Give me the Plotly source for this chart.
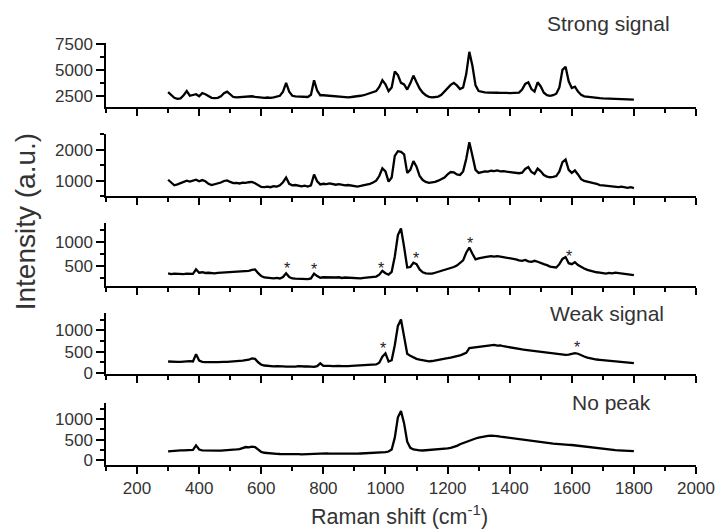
import plotly.graph_objects as go

# Raman shift sampling grid (cm^-1)
raman_shift = list(range(300, 1810, 10))

strong_signal = [
    2850, 2600, 2300, 2200, 2250, 2550, 2950, 2500, 2550, 2650,
    2450, 2750, 2650, 2450, 2300, 2280, 2300, 2450, 2750, 2900,
    2600, 2380, 2350, 2370, 2400, 2380, 2420, 2450, 2400, 2350,
    2320, 2300, 2330, 2300, 2350, 2400, 2500, 2900, 3750, 2900,
    2500, 2450, 2430, 2420, 2400, 2380, 2600, 4000, 3000, 2550,
    2550, 2520, 2500, 2480, 2450, 2400, 2420, 2380, 2350, 2380,
    2400, 2450, 2500, 2550, 2650, 2700, 2800, 2950, 3350, 4000,
    3600, 2950, 3300, 4850, 4500, 3750, 3600, 3100, 3700, 4450,
    3800, 3200, 2800, 2550, 2400, 2350, 2380, 2420, 2600, 2900,
    3300, 3550, 3750, 3500, 3150, 3300, 4600, 6750, 5400, 3500,
    2950, 2850, 2820, 2800, 2820, 2800, 2790, 2780, 2800, 2780,
    2760, 2770, 2750, 2800, 3100, 3650, 3800, 3150, 2900, 3800,
    3400, 2800, 2550, 2500, 2550, 2700, 3300, 5000, 5300, 3900,
    3250, 3380, 2900, 2600, 2450, 2400, 2350, 2330, 2300, 2270,
    2250, 2230, 2240, 2200, 2180, 2190, 2160, 2150, 2130, 2140,
    2120,
]

medium_signal = [
    1030, 950, 850, 880, 920, 960, 1000, 970, 1000, 1030,
    980, 1020, 980, 900, 860, 880, 900, 940, 990, 1010,
    960, 920, 930, 910, 940, 930, 950, 960, 920, 850,
    800, 790, 810, 790, 820, 810, 850, 950, 1100, 900,
    850, 860, 830, 820, 840, 810, 850, 1200, 980, 880,
    900, 890, 910, 880, 870, 890, 860, 850, 860, 840,
    820, 810, 830, 850, 870, 900, 940, 1000, 1150, 1400,
    1300, 970, 1100, 1800, 1950, 1930, 1850, 1250, 1350, 1630,
    1450, 1150, 1020, 960, 930, 940, 960, 1000, 1050, 1100,
    1200, 1280, 1270, 1200, 1180, 1300, 1700, 2240, 1800, 1350,
    1250, 1270, 1300, 1290, 1320, 1310, 1330, 1300, 1310, 1290,
    1280, 1270, 1250, 1240, 1260, 1380, 1440, 1280, 1220, 1390,
    1300, 1180, 1130, 1110, 1120, 1150, 1300, 1600, 1680, 1350,
    1250, 1330, 1200, 1050, 990, 960, 940, 920, 900, 860,
    850, 840, 830, 810, 800, 790, 810, 780, 770, 790,
    760,
]

moderate_signal = [
    346, 330, 340, 335, 345, 330, 340, 345, 335, 430,
    360, 370, 355, 360, 350, 345, 355, 360, 350, 365,
    370, 380, 375, 390, 385, 395, 400, 420, 430, 350,
    290, 260, 250, 245, 240, 250, 240, 270, 350, 270,
    240, 235, 230, 240, 230, 225, 240, 340, 290, 255,
    265, 260, 270, 255, 260, 265, 250, 260, 255, 245,
    240, 245, 240, 250, 255, 260, 265, 280, 320, 400,
    350, 320, 380, 700, 1150, 1290, 900, 470, 480, 570,
    540, 430, 370, 345, 340, 340, 360, 380, 400, 410,
    430, 450, 480, 510, 560, 620, 780, 890, 760, 640,
    660, 680, 690, 700, 710, 700, 710, 700, 690, 680,
    670, 650, 640, 620, 610, 630, 600, 590, 610, 590,
    560, 540, 520, 490, 480, 470, 540, 650, 690, 560,
    540, 580, 520, 480, 450, 420, 400, 390, 370, 360,
    350, 340, 355, 345, 360, 350, 340, 330, 325, 315,
    310,
]

weak_signal = [
    268, 262, 265, 258, 262, 270, 265, 275, 270, 440,
    290, 260, 255, 250, 258, 252, 255, 250, 260, 262,
    265, 270, 275, 280, 290, 300, 310, 340, 330, 250,
    195, 175, 165, 160, 155, 160, 150, 155, 150, 145,
    155, 150, 160, 148, 152, 155, 150, 145, 160, 225,
    165, 170, 165, 160, 170, 165, 160, 168, 162, 165,
    168, 170, 175, 172, 180, 185, 190, 200, 240, 380,
    460, 270, 300, 650, 1100, 1250, 850, 450, 400, 360,
    330, 310, 295, 280, 270, 280, 290, 300, 310, 330,
    345, 360, 375, 390, 410, 440, 470, 580, 590, 600,
    610, 620, 630, 640, 650, 655, 640, 645, 625, 610,
    600, 590, 575, 560, 550, 540, 530, 520, 510, 500,
    490, 480, 470, 462, 455, 445, 435, 430, 425, 430,
    445, 465, 450, 410, 385, 360, 340, 325, 315, 308,
    300, 290, 280, 270, 265, 258, 250, 245, 238, 232,
    230,
]

no_peak = [
    216, 225, 230, 235, 240, 238, 245, 240, 250, 360,
    260, 240, 235, 230, 225, 228, 230, 232, 235, 240,
    255, 260, 262, 270, 300, 320, 310, 330, 320, 250,
    200, 180, 170, 165, 160, 155, 150, 152, 148, 145,
    150, 142, 145, 140, 145, 148, 142, 145, 150, 155,
    160, 165, 160, 158, 155, 160, 150, 155, 150, 152,
    160, 158, 162, 165, 160, 170, 168, 175, 180, 185,
    195, 210, 260, 550, 1050, 1200, 900, 450, 300, 260,
    245, 240, 235, 240, 245, 250, 255, 265, 280, 275,
    285, 300, 320, 350, 390, 420, 450, 480, 510, 530,
    550, 570, 585, 595, 600, 598, 590, 575, 565, 555,
    545, 535, 520, 510, 500, 480, 470, 465, 455, 450,
    440, 430, 420, 410, 405, 400, 390, 385, 380, 375,
    370, 360, 350, 340, 330, 320, 310, 300, 290, 280,
    270, 265, 258, 250, 245, 240, 235, 230, 228, 225,
    222,
]

# Marked bands (position, height of the marker) for panels 3 and 4
stars_p3_x = [684, 770, 987, 1099, 1271, 1591]
stars_p3_y = [536, 521, 536, 747, 1049, 795]
stars_p4_x = [992, 1616]
stars_p4_y = [670, 693]

x_ticks = [200, 400, 600, 800, 1000, 1200, 1400, 1600, 1800, 2000]

series = [strong_signal, medium_signal, moderate_signal, weak_signal, no_peak]
y_ranges = [[1400, 7600], [500, 2500], [80, 1400], [-20, 1400], [-120, 1400]]
y_dticks = [2500, 1000, 500, 500, 500]
y_minor = [1250, 500, 250, 250, 250]
domains = [[0.848, 1.0], [0.637, 0.784], [0.424, 0.573], [0.216, 0.360], [0.0, 0.147]]

FONT = "Liberation Sans, Arial, sans-serif"
TICK_COLOR = "#333333"

fig = go.Figure()
layout = dict(
    width=727, height=529,
    margin=dict(l=106, r=20, t=43, b=64),
    paper_bgcolor="white", plot_bgcolor="white",
    showlegend=False,
    font=dict(family=FONT, color=TICK_COLOR, size=17),
)

for i, vals in enumerate(series):
    n = i + 1
    xa = "x" if n == 1 else f"x{n}"
    ya = "y" if n == 1 else f"y{n}"
    fig.add_trace(go.Scatter(
        x=raman_shift, y=vals, xaxis=xa, yaxis=ya, mode="lines",
        line=dict(color="black", width=2.3), hoverinfo="skip",
    ))
    layout[f"xaxis{'' if n == 1 else n}"] = dict(
        domain=[0, 1], range=[100, 2000], anchor=ya,
        showline=True, linecolor="black", linewidth=1.5,
        showgrid=False, zeroline=False,
        ticks="outside", ticklen=7, tickwidth=1.5, tickcolor="black",
        tickvals=x_ticks, showticklabels=(n == 5),
        tickfont=dict(size=17, color=TICK_COLOR, family=FONT),
        minor=dict(dtick=100, tick0=0, ticks="outside", ticklen=4,
                   tickwidth=1.5, tickcolor="black", showgrid=False),
    )
    layout[f"yaxis{'' if n == 1 else n}"] = dict(
        domain=domains[i], range=y_ranges[i], anchor=xa,
        showline=True, linecolor="black", linewidth=1.5,
        showgrid=False, zeroline=False,
        ticks="outside", ticklen=8, tickwidth=1.5, tickcolor="black",
        dtick=y_dticks[i], tick0=0, tickformat="d",
        tickfont=dict(size=17, color=TICK_COLOR, family=FONT),
        minor=dict(dtick=y_minor[i], tick0=0, ticks="outside", ticklen=4,
                   tickwidth=1.5, tickcolor="black", showgrid=False),
    )

annotations = []
for sx, sy in zip(stars_p3_x, stars_p3_y):
    annotations.append(dict(x=sx, y=sy, xref="x3", yref="y3", text="*",
                            showarrow=False, yshift=-4,
                            font=dict(size=16, color="#222222", family=FONT)))
for sx, sy in zip(stars_p4_x, stars_p4_y):
    annotations.append(dict(x=sx, y=sy, xref="x4", yref="y4", text="*",
                            showarrow=False, yshift=-4,
                            font=dict(size=16, color="#222222", family=FONT)))

for label, px, py in [("Strong signal", 0.851, 1.047),
                      ("Weak signal", 0.849, 0.360),
                      ("No peak", 0.856, 0.147)]:
    annotations.append(dict(x=px, y=py, xref="paper", yref="paper", text=label,
                            showarrow=False, xanchor="center", yanchor="middle",
                            font=dict(size=21, color=TICK_COLOR, family=FONT)))

annotations.append(dict(x=-0.135, y=0.576, xref="paper", yref="paper",
                        text="Intensity (a.u.)", textangle=-90, showarrow=False,
                        xanchor="center", yanchor="middle",
                        font=dict(size=28, color=TICK_COLOR, family=FONT)))
annotations.append(dict(x=0.4975, y=-0.118, xref="paper", yref="paper",
                        text="Raman shift (cm<sup>-1</sup>)", showarrow=False,
                        xanchor="center", yanchor="middle",
                        font=dict(size=21.5, color=TICK_COLOR, family=FONT)))

layout["annotations"] = annotations
fig.update_layout(**layout)
fig.write_html("out.html")
